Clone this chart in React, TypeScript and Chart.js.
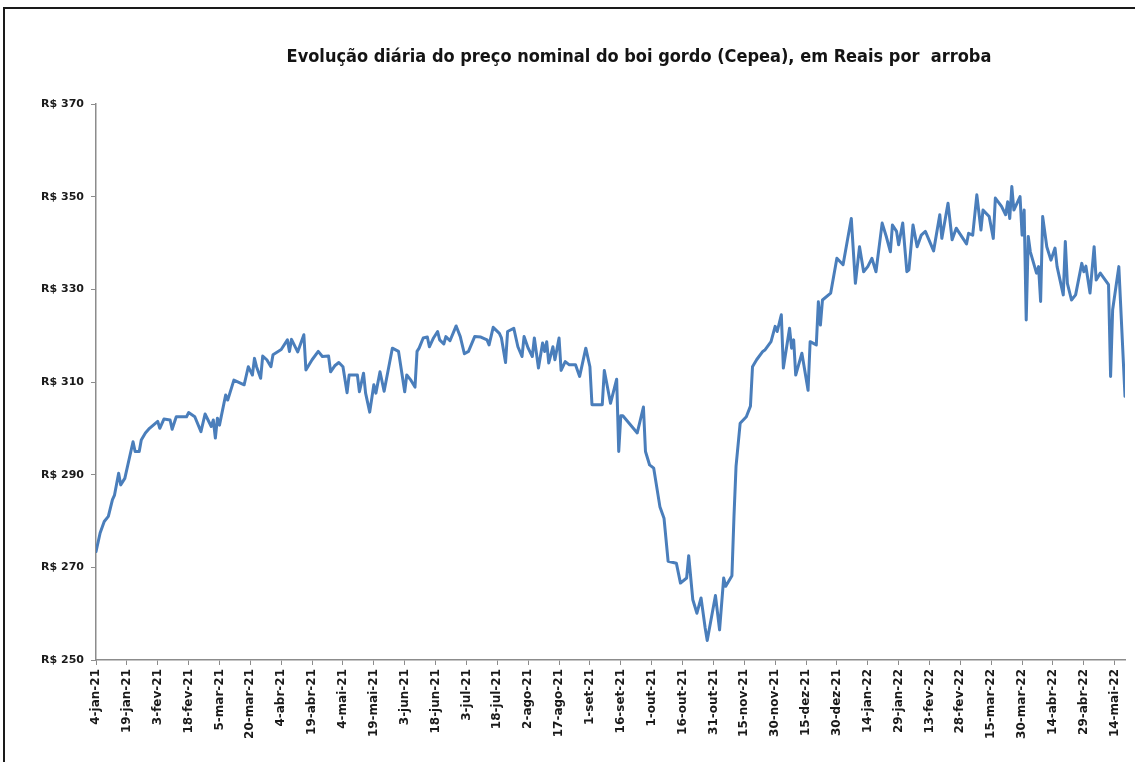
import React, { useEffect, useRef } from "react";
import { Chart, registerables } from "chart.js";

Chart.register(...registerables);

const TITLE = "Evolução diária do preço nominal do boi gordo (Cepea), em Reais por  arroba";

// Tick labels every 15 days, starting 4-jan-21 (day 0)
const TICK_STEP_DAYS = 15;
const TICK_LABELS = [
  "4-jan-21", "19-jan-21", "3-fev-21", "18-fev-21", "5-mar-21", "20-mar-21",
  "4-abr-21", "19-abr-21", "4-mai-21", "19-mai-21", "3-jun-21", "18-jun-21",
  "3-jul-21", "18-jul-21", "2-ago-21", "17-ago-21", "1-set-21", "16-set-21",
  "1-out-21", "16-out-21", "31-out-21", "15-nov-21", "30-nov-21", "15-dez-21",
  "30-dez-21", "14-jan-22", "29-jan-22", "13-fev-22", "28-fev-22", "15-mar-22",
  "30-mar-22", "14-abr-22", "29-abr-22", "14-mai-22",
];

// Days elapsed since 4-jan-21
const DAYS = [
  0, 2, 4, 6, 8, 9, 11, 12, 14, 18, 19, 21, 22, 24, 26, 30, 31, 33, 36, 37,
  39, 44, 45, 48, 51, 53, 56, 57, 58, 59, 60, 63, 64, 67, 72, 74, 76, 77, 78, 80,
  81, 83, 85, 86, 90, 93, 94, 95, 98, 101, 102, 105, 108, 110, 113, 114, 116, 118, 120, 122,
  123, 127, 128, 130, 131, 133, 135, 136, 138, 140, 144, 147, 150, 151, 153, 155, 156, 157, 159, 161,
  162, 164, 166, 167, 169, 170, 172, 175, 177, 179, 181, 184, 187, 190, 191, 193, 196, 197, 199, 200,
  203, 205, 207, 208, 210, 212, 213, 215, 217, 218, 219, 220, 222, 223, 225, 226, 228, 230, 233, 235,
  238, 240, 241, 246, 247, 250, 253, 254, 255, 256, 263, 266, 267, 269, 271, 274, 276, 278, 282, 284,
  287, 288, 290, 292, 294, 296, 297, 301, 303, 305, 306, 309, 310, 311, 313, 316, 318, 319, 321, 324,
  325, 328, 330, 331, 333, 334, 337, 338, 339, 340, 343, 346, 347, 350, 351, 352, 353, 357, 360, 363,
  367, 369, 371, 373, 375, 377, 379, 382, 384, 386, 387, 389, 390, 392, 394, 395, 397, 399, 401, 403,
  407, 410, 411, 414, 416, 418, 419, 423, 424, 426, 428, 430, 431, 434, 436, 437, 440, 442, 443, 444,
  445, 446, 449, 450, 451, 452, 453, 454, 457, 458, 459, 460, 462, 464, 466, 467, 470, 471, 472, 474,
  476, 479, 480, 481, 483, 485, 486, 488, 492, 493, 494, 497, 500,
];

// Price in R$ per arroba
const PRICES = [
  273.4, 277.4, 279.9, 281.0, 284.6, 285.6, 290.3, 287.8, 289.2, 297.1, 295.0, 295.0, 297.5, 299.0, 300.0, 301.5, 300.0, 302.0, 301.8, 299.8,
  302.5, 302.5, 303.4, 302.5, 299.3, 303.1, 300.4, 301.8, 297.9, 302.2, 300.7, 307.2, 306.1, 310.4, 309.4, 313.3, 311.5, 315.1, 313.3, 310.8,
  315.6, 314.8, 313.3, 315.9, 317.0, 319.1, 316.6, 319.2, 316.5, 320.2, 312.6, 314.8, 316.6, 315.5, 315.6, 312.2, 313.5, 314.2, 313.3, 307.7,
  311.5, 311.5, 307.9, 311.9, 307.6, 303.5, 309.4, 307.6, 312.2, 308.0, 317.3, 316.6, 307.9, 311.5, 310.4, 308.9, 316.6, 317.3, 319.5, 319.7,
  317.6, 319.5, 320.9, 319.1, 318.2, 319.8, 318.9, 322.1, 319.8, 316.1, 316.6, 319.8, 319.7, 319.1, 318.0, 321.8, 320.5, 319.5, 314.2, 320.9,
  321.6, 317.6, 315.5, 319.8, 317.3, 315.5, 319.5, 313.0, 318.4, 316.6, 318.7, 314.1, 317.6, 314.8, 319.5, 312.5, 314.4, 313.7, 313.7, 311.2,
  317.3, 313.3, 305.1, 305.1, 312.5, 305.4, 310.6, 295.0, 302.7, 302.7, 299.0, 304.6, 295.0, 292.1, 291.4, 283.1, 280.6, 271.3, 270.9, 266.6,
  267.7, 272.5, 263.0, 260.1, 263.4, 256.9, 254.2, 263.9, 256.5, 267.7, 265.9, 268.2, 281.0, 291.8, 301.1, 302.5, 304.8, 313.3, 314.8, 316.6,
  316.9, 318.7, 322.0, 320.9, 324.5, 313.0, 321.6, 317.3, 319.1, 311.5, 316.2, 308.2, 318.7, 318.0, 327.3, 322.3, 327.7, 329.2, 336.7, 335.3,
  345.3, 331.3, 339.2, 333.8, 334.9, 336.7, 333.8, 344.3, 341.4, 338.1, 343.9, 342.5, 339.6, 344.3, 333.8, 334.2, 343.9, 339.2, 341.7, 342.5,
  338.3, 346.1, 341.0, 348.6, 340.7, 343.2, 342.5, 339.8, 342.1, 341.7, 350.4, 342.8, 347.1, 345.7, 341.0, 349.7, 347.9, 346.1, 348.9, 345.3,
  352.2, 347.1, 350.0, 341.7, 347.1, 323.4, 341.4, 338.1, 333.5, 334.9, 327.4, 345.7, 339.2, 336.3, 338.9, 334.9, 328.8, 340.3, 331.3, 327.7,
  328.8, 335.6, 333.8, 335.0, 329.2, 339.2, 332.0, 333.5, 331.0, 311.2, 325.6, 334.9, 306.9,
];

const Y_MIN = 250;
const Y_MAX = 370;
const Y_STEP = 20;
const X_MAX_DAY = 500;

export default function App() {
  const canvasRef = useRef<HTMLCanvasElement>(null);

  useEffect(() => {
    if (!canvasRef.current) return;
    const titlePlugin = {
      id: "fixedTitle",
      afterDraw(chart: any) {
        const ctx = chart.ctx;
        ctx.save();
        ctx.font = 'bold 18px "Liberation Sans Narrow", "DejaVu Sans Condensed", "Liberation Sans", sans-serif';
        ctx.fillStyle = "#141414";
        ctx.textAlign = "center";
        ctx.textBaseline = "middle";
        ctx.fillText(TITLE, 639, 57);
        ctx.restore();
      },
    };

    const axisColor = "#8c8c8c";
    const chart = new Chart(canvasRef.current, {
      type: "line",
      data: {
        datasets: [
          {
            data: DAYS.map((d, i) => ({ x: d, y: PRICES[i] })),
            borderColor: "#4a7ebb",
            borderWidth: 3,
            pointRadius: 0,
            tension: 0,
            borderJoinStyle: "round",
            borderCapStyle: "round",
            fill: false,
          },
        ],
      },
      options: {
        responsive: false,
        animation: false,
        layout: { padding: { top: 104, left: 0, right: 10, bottom: 0 } },
        plugins: {
          legend: { display: false },
          tooltip: { enabled: false },
          title: { display: false },
        },
        scales: {
          x: {
            type: "linear",
            min: 0,
            max: X_MAX_DAY,
            afterBuildTicks: (s: any) => {
              s.ticks = TICK_LABELS.map((_, i) => ({ value: i * TICK_STEP_DAYS }));
            },
            afterFit: (s: any) => {
              s.height = 102;
            },
            ticks: {
              autoSkip: false,
              minRotation: 90,
              maxRotation: 90,
              padding: 4,
              color: "#1a1a1a",
              font: { family: '"DejaVu Sans", sans-serif', size: 12, weight: "bold" },
              callback: (_v: any, i: number) => TICK_LABELS[i] ?? "",
            },
            grid: { drawOnChartArea: false, drawTicks: true, tickLength: 5, color: axisColor },
            border: { display: true, color: axisColor, width: 1.5 },
          },
          y: {
            min: Y_MIN,
            max: Y_MAX,
            afterFit: (s: any) => {
              s.width = 96;
            },
            ticks: {
              stepSize: Y_STEP,
              padding: 7,
              color: "#1a1a1a",
              font: { family: '"DejaVu Sans", sans-serif', size: 11, weight: "bold" },
              callback: (v: any) => `R$ ${v}`,
            },
            grid: { drawOnChartArea: false, drawTicks: true, tickLength: 5, color: axisColor },
            border: { display: true, color: axisColor, width: 1.5 },
          },
        },
      },
      plugins: [titlePlugin],
    } as any);
    return () => chart.destroy();
  }, []);

  return (
    <div style={{ position: "absolute", left: 0, top: 0, width: 1135, height: 762, overflow: "hidden", background: "#fff" }}>
      <div
        style={{
          position: "absolute",
          left: 3,
          top: 7,
          width: 1132,
          height: 755,
          borderTop: "2px solid #1a1a1a",
          borderLeft: "2px solid #1a1a1a",
          boxSizing: "border-box",
        }}
      />
      <canvas ref={canvasRef} width={1135} height={762} style={{ position: "absolute", left: 0, top: 0 }} />
    </div>
  );
}
